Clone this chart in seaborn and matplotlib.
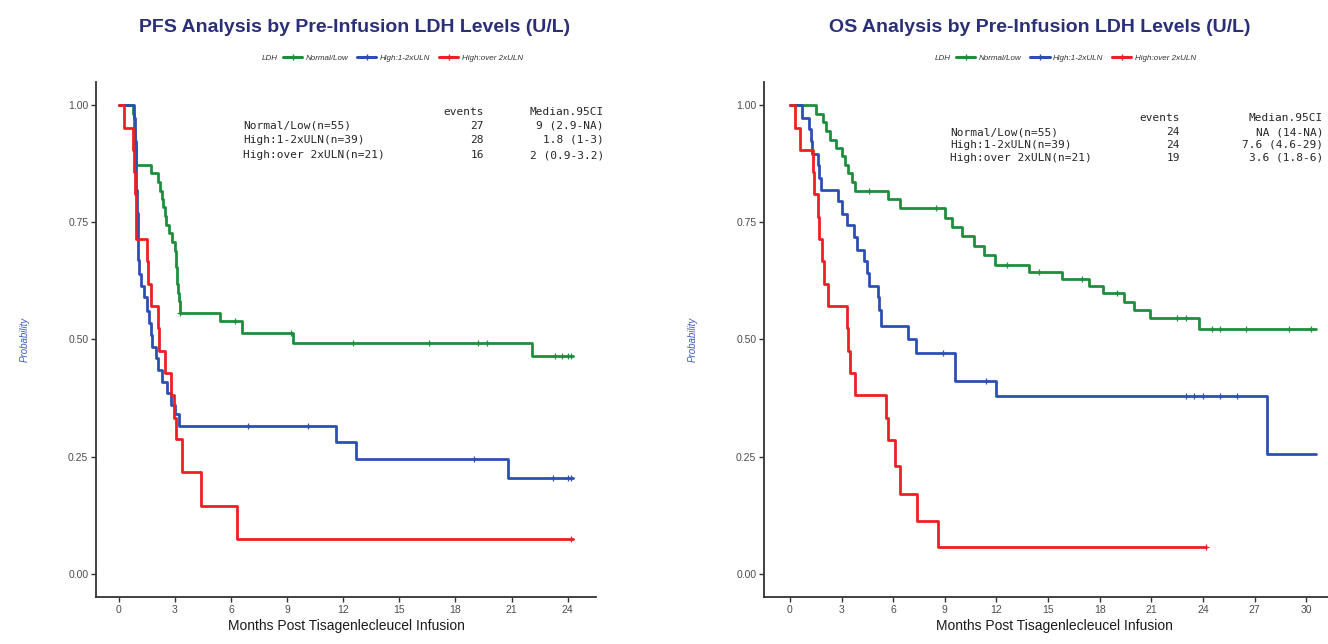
import numpy as np
import pandas as pd
import matplotlib
matplotlib.use("Agg")
import matplotlib.pyplot as plt
from matplotlib.lines import Line2D
import seaborn as sns

# ---- groups ----
groups = ["Normal/Low", "High:1-2xULN", "High:over 2xULN"]
group_n = [55, 39, 21]
colors = ["#1E8E3E", "#2D4FB4", "#EC2024"]

# ---- PFS Kaplan-Meier steps (event time, survival after the event) ----
pfs_normal_t = [0.75, 0.8, 0.85, 0.95, 1.7, 2.1, 2.2, 2.3, 2.35, 2.45, 2.55, 2.7, 2.85,
                3.0, 3.05, 3.1, 3.15, 3.2, 3.25, 5.4, 6.6, 9.3, 22.1]
pfs_normal_s = [0.982, 0.945, 0.909, 0.873, 0.855, 0.836, 0.818, 0.80, 0.782, 0.764, 0.745,
                0.727, 0.709, 0.69, 0.655, 0.618, 0.60, 0.582, 0.557, 0.54, 0.514, 0.493, 0.465]
pfs_normal_cens = [3.3, 6.2, 9.2, 12.5, 16.6, 19.2, 19.7, 23.3, 23.7, 24.0, 24.2]
pfs_normal_end = 24.3

pfs_mid_t = [0.8, 0.85, 0.9, 0.95, 1.0, 1.02, 1.05, 1.1, 1.2, 1.35, 1.5, 1.6, 1.7, 1.8,
             2.0, 2.1, 2.3, 2.6, 2.8, 3.0, 3.2, 11.6, 12.7, 20.8]
pfs_mid_s = [0.974, 0.923, 0.872, 0.82, 0.77, 0.72, 0.67, 0.64, 0.615, 0.59, 0.56, 0.535,
             0.51, 0.485, 0.46, 0.435, 0.41, 0.385, 0.36, 0.34, 0.315, 0.28, 0.245, 0.205]
pfs_mid_cens = [6.9, 10.1, 19.0, 23.2, 24.0, 24.2]
pfs_mid_end = 24.3

pfs_high_t = [0.3, 0.75, 0.8, 0.85, 0.9, 0.95, 1.5, 1.55, 1.7, 2.1, 2.15, 2.5, 2.8, 2.95,
              3.05, 3.4, 4.4, 6.3]
pfs_high_s = [0.952, 0.905, 0.857, 0.81, 0.762, 0.714, 0.667, 0.619, 0.571, 0.524, 0.476,
              0.429, 0.381, 0.333, 0.288, 0.216, 0.145, 0.074]
pfs_high_cens = [24.2]
pfs_high_end = 24.3

# ---- OS Kaplan-Meier steps ----
os_normal_t = [1.5, 1.9, 2.1, 2.3, 2.7, 3.0, 3.2, 3.4, 3.6, 3.8, 5.7, 6.4, 9.0, 9.4, 10.0,
               10.7, 11.3, 11.9, 13.9, 15.8, 17.4, 18.2, 19.4, 20.0, 20.9, 23.8]
os_normal_s = [0.982, 0.964, 0.945, 0.927, 0.909, 0.891, 0.873, 0.855, 0.836, 0.818, 0.80,
               0.78, 0.76, 0.74, 0.72, 0.70, 0.68, 0.66, 0.645, 0.63, 0.615, 0.60, 0.58,
               0.562, 0.545, 0.522]
os_normal_cens = [4.6, 8.5, 12.6, 14.5, 17.0, 19.0, 22.5, 23.0, 24.5, 25.0, 26.5, 29.0, 30.3]
os_normal_end = 30.6

os_mid_t = [0.7, 1.1, 1.2, 1.3, 1.6, 1.7, 1.8, 2.8, 3.0, 3.3, 3.7, 3.9, 4.3, 4.5, 4.6, 5.1,
            5.2, 5.3, 6.85, 7.3, 9.6, 12.0, 27.7]
os_mid_s = [0.974, 0.949, 0.923, 0.897, 0.872, 0.846, 0.82, 0.795, 0.769, 0.744, 0.718,
            0.692, 0.667, 0.641, 0.615, 0.59, 0.564, 0.529, 0.50, 0.471, 0.411, 0.38, 0.255]
os_mid_cens = [8.9, 11.4, 23.0, 23.5, 24.0, 25.0, 26.0]
os_mid_end = 30.6

os_high_t = [0.3, 0.6, 1.35, 1.4, 1.6, 1.7, 1.85, 2.0, 2.2, 3.3, 3.4, 3.5, 3.8, 5.6, 5.7,
             6.1, 6.4, 7.4, 8.6]
os_high_s = [0.952, 0.905, 0.857, 0.81, 0.762, 0.714, 0.667, 0.619, 0.571, 0.524, 0.476,
             0.429, 0.381, 0.333, 0.286, 0.23, 0.17, 0.113, 0.057]
os_high_cens = [24.2]
os_high_end = 24.2

# ---- summary tables ----
pfs_events = [27, 28, 16]
pfs_median = ["9 (2.9-NA)", "1.8 (1-3)", "2 (0.9-3.2)"]
os_events = [24, 24, 19]
os_median = ["NA (14-NA)", "7.6 (4.6-29)", "3.6 (1.8-6)"]

pfs_ticks = [0, 3, 6, 9, 12, 15, 18, 21, 24]
os_ticks = [0, 3, 6, 9, 12, 15, 18, 21, 24, 27, 30]
y_ticks = [0.0, 0.25, 0.50, 0.75, 1.00]


def step_frame(t, s, end, label):
    times = [0.0] + list(t) + [end]
    surv = [1.0] + list(s) + [s[-1]]
    return pd.DataFrame({"t": times, "s": surv, "group": label})


def censor_frame(t, s, cens, label):
    t = np.asarray(t)
    s = np.asarray(s)
    vals = []
    for c in cens:
        idx = np.searchsorted(t, c, side="right") - 1
        vals.append(1.0 if idx < 0 else s[idx])
    return pd.DataFrame({"t": cens, "s": vals, "group": label})


sns.set_style("white")
plt.rcParams["font.family"] = ["Liberation Sans", "DejaVu Sans"]

W, H = 1328, 644
fig = plt.figure(figsize=(W / 100, H / 100), dpi=100)

def px_axes(x0, x1, y_top, y_bot):
    return fig.add_axes([x0 / W, 1 - y_bot / H, (x1 - x0) / W, (y_bot - y_top) / H])

ax_pfs = px_axes(96, 596, 82, 597)
ax_os = px_axes(764, 1344, 82, 597)

palette = dict(zip(groups, colors))

panels = [
    (ax_pfs,
     [(pfs_normal_t, pfs_normal_s, pfs_normal_cens, pfs_normal_end),
      (pfs_mid_t, pfs_mid_s, pfs_mid_cens, pfs_mid_end),
      (pfs_high_t, pfs_high_s, pfs_high_cens, pfs_high_end)],
     pfs_ticks, (-1.215, 25.515)),
    (ax_os,
     [(os_normal_t, os_normal_s, os_normal_cens, os_normal_end),
      (os_mid_t, os_mid_s, os_mid_cens, os_mid_end),
      (os_high_t, os_high_s, os_high_cens, os_high_end)],
     os_ticks, (-1.51, 32.2)),
]

for ax, curves, ticks, xlim in panels:
    for g, (t, s, cens, end) in zip(groups, curves):
        df = step_frame(t, s, end, g)
        sns.lineplot(data=df, x="t", y="s", color=palette[g], drawstyle="steps-post",
                     estimator=None, sort=False, linewidth=2.0, legend=False, ax=ax)
        cf = censor_frame(t, s, cens, g)
        sns.scatterplot(data=cf, x="t", y="s", color=palette[g], marker="+", s=22,
                        linewidth=0.9, legend=False, ax=ax, zorder=3)
    ax.set_xlim(*xlim)
    ax.set_ylim(-0.05, 1.05)
    ax.set_xticks(ticks)
    ax.set_xticklabels([str(v) for v in ticks])
    ax.set_yticks(y_ticks)
    ax.set_yticklabels([f"{v:.2f}" for v in y_ticks])
    ax.set_xlabel("Months Post Tisagenlecleucel Infusion", fontsize=10, color="#1A1A1A",
                  labelpad=3)
    ax.set_ylabel("Probability", fontsize=7, color="#3F5BC4", style="italic", labelpad=28)
    for side in ["top", "right"]:
        ax.spines[side].set_visible(False)
    for side in ["left", "bottom"]:
        ax.spines[side].set_color("#333333")
        ax.spines[side].set_linewidth(1.3)
    ax.tick_params(axis="both", which="major", bottom=True, left=True, direction="out",
                   length=3.5, width=1.0, color="#333333",
                   labelsize=7.5, labelcolor="#4D4D4D", pad=2)

# ---- titles ----
fig.text(355 / W, 1 - 27 / H, "PFS Analysis by Pre-Infusion LDH Levels (U/L)",
         ha="center", va="center", fontsize=14, fontweight="bold", color="#2B2F78")
fig.text(1040 / W, 1 - 27 / H, "OS Analysis by Pre-Infusion LDH Levels (U/L)",
         ha="center", va="center", fontsize=14, fontweight="bold", color="#2B2F78")

# ---- legends ----
handles = [Line2D([0], [0], color=c, lw=2.2, marker="+", markersize=4.5,
                  markeredgewidth=1.0) for c in colors]
for x_title, x_leg in [(262, 283), (935, 956)]:
    fig.text(x_title / W, 1 - 58 / H, "LDH", ha="left", va="center", fontsize=5.8,
             style="italic", color="#333333")
    fig.legend(handles, groups, loc="center left", bbox_to_anchor=(x_leg / W, 1 - 58 / H),
               ncol=3, frameon=False, prop={"size": 5.8, "style": "italic"},
               handlelength=2.4, handletextpad=0.4, columnspacing=1.1,
               borderaxespad=0, borderpad=0, labelcolor="#333333")

# ---- summary tables ----
mono = {"family": "DejaVu Sans Mono", "size": 8, "color": "#262626"}
tables = [
    (243, 484, 604, [112, 126, 140, 155], pfs_events, pfs_median),
    (950, 1180, 1323, [118, 132, 145, 158], os_events, os_median),
]
for x_lab, x_ev, x_med, ys, events, medians in tables:
    fig.text(x_ev / W, 1 - ys[0] / H, "events", ha="right", va="center", **mono)
    fig.text(x_med / W, 1 - ys[0] / H, "Median.95CI", ha="right", va="center", **mono)
    for g, n, ev, md, y in zip(groups, group_n, events, medians, ys[1:]):
        fig.text(x_lab / W, 1 - y / H, f"{g}(n={n})", ha="left", va="center", **mono)
        fig.text(x_ev / W, 1 - y / H, str(ev), ha="right", va="center", **mono)
        fig.text(x_med / W, 1 - y / H, md, ha="right", va="center", **mono)

fig.savefig("out.png", dpi=100)
